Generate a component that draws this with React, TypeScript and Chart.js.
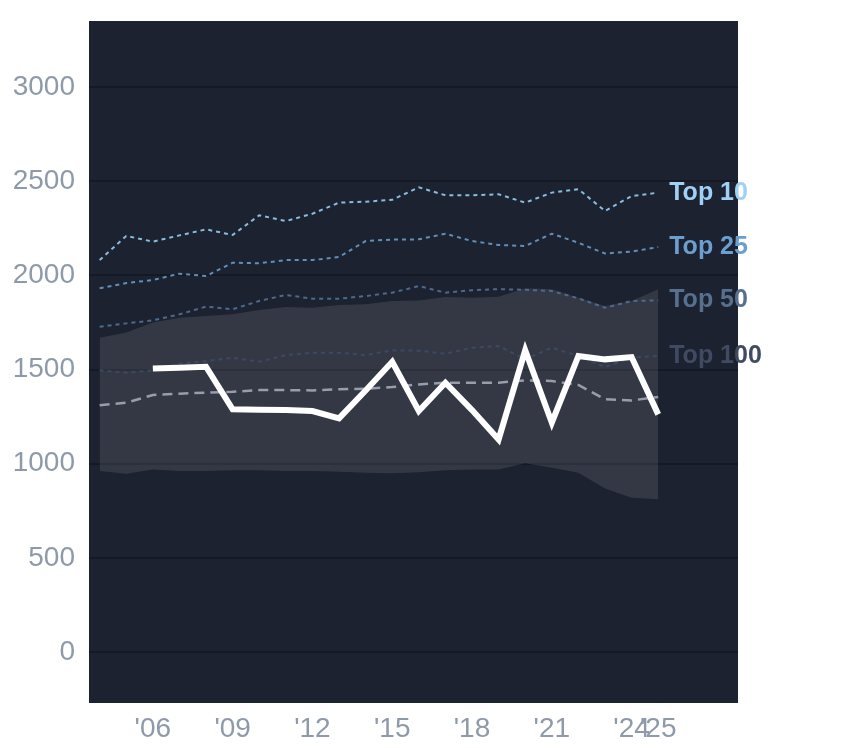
import { useEffect, useRef } from 'react';
import Chart from 'chart.js/auto';

const years = [
  2004, 2005, 2006, 2007, 2008, 2009, 2010, 2011, 2012, 2013, 2014, 2015,
  2016, 2017, 2018, 2019, 2020, 2021, 2022, 2023, 2024, 2025,
];
const top10 = [
  2081, 2209, 2179, 2212, 2244, 2214, 2319, 2288, 2327, 2386, 2391, 2401,
  2467, 2425, 2425, 2430, 2386, 2439, 2457, 2342, 2421, 2439,
];
const top25 = [
  1931, 1959, 1975, 2009, 1996, 2067, 2064, 2081, 2081, 2097, 2182, 2190,
  2191, 2221, 2182, 2161, 2156, 2221, 2173, 2116, 2126, 2150,
];
const top50 = [
  1727, 1745, 1761, 1793, 1834, 1820, 1864, 1896, 1876, 1876, 1890, 1908,
  1943, 1908, 1921, 1927, 1923, 1917, 1878, 1828, 1864, 1867,
];
const top100 = [
  1496, 1483, 1496, 1531, 1545, 1563, 1541, 1577, 1589, 1589, 1577, 1602,
  1600, 1584, 1616, 1625, 1554, 1616, 1572, 1513, 1563, 1572,
];
const median = [
  1310, 1324, 1365, 1372, 1377, 1382, 1391, 1391, 1389, 1395, 1398, 1407,
  1421, 1430, 1430, 1430, 1443, 1439, 1418, 1342, 1336, 1354,
];
const bandLow = [
  961, 947, 970, 961, 961, 965, 965, 961, 961, 957, 952, 950, 955, 965, 970,
  970, 1002, 979, 952, 869, 819, 811,
];
const bandHigh = [
  1669, 1696, 1749, 1775, 1784, 1793, 1816, 1832, 1828, 1842, 1846, 1864,
  1866, 1885, 1881, 1887, 1931, 1926, 1881, 1837, 1864, 1926,
];
const player = [
  null, null, 1506, 1510, 1515, 1289, 1287, 1285, 1280, 1241, 1389, 1541,
  1280, 1430, 1285, 1129, 1602, 1218, 1572, 1554, 1566, 1262,
];
const xTicks = [2006, 2009, 2012, 2015, 2018, 2021, 2024, 2025];
const yTicks = [0, 500, 1000, 1500, 2000, 2500, 3000];
const tierLabels = ['Top 10', 'Top 25', 'Top 50', 'Top 100'];
const tierColors = ['#9fd0f5', '#6b9fcf', '#56708f', '#3f4b63'];
const tierLineColors = ['#86bde3', '#5f8fbd', '#4b6a8f', '#3b4962'];

const toPoints = (values: (number | null)[]) =>
  years.map((year, i) => ({ x: year, y: values[i] }));

const plotBackground = {
  id: 'plotBackground',
  beforeDraw(chart: any) {
    const { ctx, chartArea } = chart;
    ctx.save();
    ctx.fillStyle = '#1d2230';
    ctx.fillRect(
      chartArea.left,
      chartArea.top,
      chartArea.right - chartArea.left,
      chartArea.bottom - chartArea.top
    );
    ctx.restore();
  },
};

const tierNames = {
  id: 'tierNames',
  afterDatasetsDraw(chart: any) {
    const { ctx, scales } = chart;
    const tiers = [top10, top25, top50, top100];
    ctx.save();
    ctx.font = 'bold 25px "Liberation Sans", Arial, sans-serif';
    ctx.textAlign = 'left';
    ctx.textBaseline = 'middle';
    tiers.forEach((values, i) => {
      const last = values.length - 1;
      ctx.fillStyle = tierColors[i];
      ctx.fillText(
        tierLabels[i],
        scales.x.getPixelForValue(years[last]) + 11,
        scales.y.getPixelForValue(values[last])
      );
    });
    ctx.restore();
  },
};

const App = () => {
  const chartRef = useRef<HTMLCanvasElement | null>(null);
  const chartInstance = useRef<Chart | null>(null);

  useEffect(() => {
    document.body.style.margin = '0';
    if (!chartRef.current) return;
    const ctx = chartRef.current.getContext('2d');
    if (!ctx) return;

    if (chartInstance.current) {
      chartInstance.current.destroy();
    }

    const dotted = (values: number[], i: number) => ({
      data: toPoints(values),
      borderColor: tierLineColors[i],
      borderWidth: 2,
      borderDash: [4, 4],
      pointRadius: 0,
      fill: false,
      order: 3,
    });

    chartInstance.current = new Chart(ctx, {
      type: 'line',
      data: {
        datasets: [
          {
            data: toPoints(player),
            borderColor: '#ffffff',
            borderWidth: 6,
            pointRadius: 0,
            fill: false,
            order: 1,
          },
          {
            data: toPoints(median),
            borderColor: '#979dab',
            borderWidth: 2.5,
            borderDash: [10, 6],
            pointRadius: 0,
            fill: false,
            order: 2,
          },
          dotted(top10, 0),
          dotted(top25, 1),
          dotted(top50, 2),
          dotted(top100, 3),
          {
            data: toPoints(bandLow),
            borderWidth: 0,
            borderColor: 'rgba(0,0,0,0)',
            pointRadius: 0,
            fill: false,
            order: 5,
          },
          {
            data: toPoints(bandHigh),
            borderWidth: 0,
            borderColor: 'rgba(0,0,0,0)',
            backgroundColor: 'rgba(255,255,255,0.1)',
            pointRadius: 0,
            fill: '-1',
            order: 4,
          },
        ] as any,
      },
      options: {
        animation: false,
        responsive: true,
        maintainAspectRatio: false,
        layout: { padding: { top: 21, right: 106, bottom: 0, left: 0 } },
        plugins: {
          legend: { display: false },
          tooltip: { enabled: false },
        },
        scales: {
          x: {
            type: 'linear',
            min: 2003.6,
            max: 2028,
            grid: { display: false },
            border: { display: false },
            afterBuildTicks: (scale: any) => {
              scale.ticks = xTicks.map((value) => ({ value }));
            },
            afterFit: (scale: any) => {
              scale.height = 45;
              scale.paddingLeft = 0;
              scale.paddingRight = 0;
            },
            ticks: {
              color: '#8e99a9',
              padding: 1,
              maxRotation: 0,
              autoSkip: false,
              font: { size: 28, family: '"Liberation Sans", Arial, sans-serif' },
              callback: (value: any) => "'" + String(value).slice(2),
            },
          },
          y: {
            type: 'linear',
            min: -270,
            max: 3350,
            grid: { color: '#151924', lineWidth: 2, drawTicks: false },
            border: { display: false },
            afterBuildTicks: (scale: any) => {
              scale.ticks = yTicks.map((value) => ({ value }));
            },
            afterFit: (scale: any) => {
              scale.width = 89;
              scale.paddingTop = 0;
              scale.paddingBottom = 0;
            },
            ticks: {
              color: '#8e99a9',
              padding: 14,
              font: { size: 28, family: '"Liberation Sans", Arial, sans-serif' },
              callback: (value: any) => String(value),
            },
          },
        },
      },
      plugins: [plotBackground, tierNames],
    });

    return () => {
      if (chartInstance.current) {
        chartInstance.current.destroy();
        chartInstance.current = null;
      }
    };
  }, []);

  return (
    <div style={{ width: '844px', height: '748px', position: 'relative' }}>
      <canvas ref={chartRef} />
    </div>
  );
};

export default App;
